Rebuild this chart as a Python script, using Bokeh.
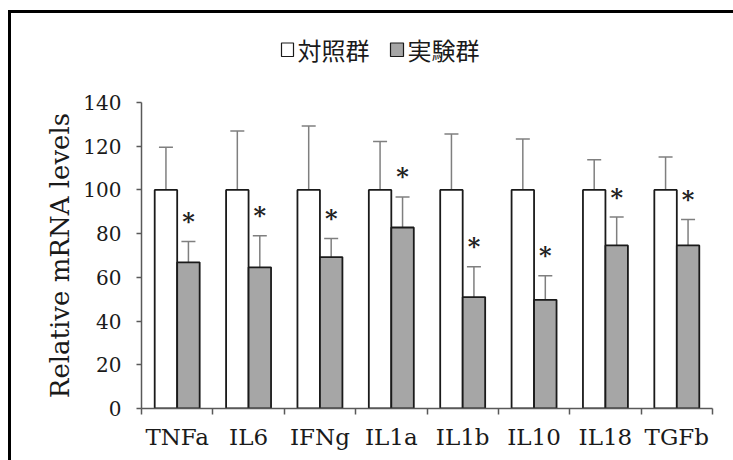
from bokeh.plotting import figure
from bokeh.layouts import column
from bokeh.models import ColumnDataSource, Range1d, FixedTicker, Whisker, TeeHead
from bokeh.core.properties import value
from bokeh.embed import file_html
from bokeh.resources import INLINE

# Gene names, group means (control normalised to 100) and error bars
genes = ["TNFa", "IL6", "IFNg", "IL1a", "IL1b", "IL10", "IL18", "TGFb"]
control = [100, 100, 100, 100, 100, 100, 100, 100]
control_err = [19.5, 27.0, 29.3, 22.2, 25.6, 23.3, 13.8, 15.1]
treated = [66.9, 64.6, 69.3, 82.8, 51.0, 49.7, 74.6, 74.6]
treated_err = [9.5, 14.4, 8.5, 14.0, 13.8, 11.0, 13.0, 11.9]
y_ticks = [0, 20, 40, 60, 80, 100, 120, 140]
group_names = ["対照群", "実験群"]

SERIF = "DejaVu Serif"
CJK = "Noto Sans CJK JP"
AXIS_COLOR = "#595959"
CTRL_FILL, TRT_FILL = "white", "#a6a6a6"
BAR_W = 0.315
N = len(genes)
W = 722
LEFT, RIGHT = 130, 21                 # shared left/right margins of both panels
PX_PER_X = (W - LEFT - RIGHT) / N


def lx(x_pix):
    """canvas pixel -> legend-panel x (shares the chart's x scale)"""
    return (x_pix - LEFT) / PX_PER_X


# ---- legend strip across the top -------------------------------------
LEG_H = 70
leg = figure(width=W, height=LEG_H, output_backend="svg", toolbar_location=None,
             x_range=Range1d(0, N), y_range=Range1d(LEG_H, 0),
             x_axis_location=None, y_axis_location=None,
             min_border_left=LEFT, min_border_right=RIGHT,
             min_border_top=0, min_border_bottom=0)
leg.outline_line_color = None
leg.grid.visible = False

swatch_src = ColumnDataSource(dict(
    left=[lx(270), lx(379)], right=[lx(282), lx(392)],
    top=[29.5, 29.5], bottom=[43, 43], fill=[CTRL_FILL, TRT_FILL],
))
leg.quad(left="left", right="right", top="top", bottom="bottom", source=swatch_src,
         fill_color="fill", line_color="#1a1a1a", line_width=1.2)
leg.text(x=[lx(286), lx(396)], y=[35.5, 35.5], text=group_names, text_font=value(CJK),
         text_font_size="24px", text_baseline="middle", text_color="#1a1a1a")

# ---- bar chart ---------------------------------------------------------
H = 377
TOP, BOTTOM = 19, 52
centers = [i + 0.5 for i in range(N)]
ctrl_x = [c - BAR_W / 2 for c in centers]
trt_x = [c + BAR_W / 2 for c in centers]

ctrl_src = ColumnDataSource(dict(
    x=ctrl_x, top=control,
    upper=[m + e for m, e in zip(control, control_err)],
    lower=[m - e for m, e in zip(control, control_err)],
))
trt_src = ColumnDataSource(dict(
    x=trt_x, top=treated,
    upper=[m + e for m, e in zip(treated, treated_err)],
    lower=[m - e for m, e in zip(treated, treated_err)],
    star=["*"] * N,
))

p = figure(width=W, height=H, output_backend="svg", toolbar_location=None,
           x_range=Range1d(0, N), y_range=Range1d(0, 140),
           min_border_left=LEFT, min_border_right=RIGHT, min_border_top=TOP,
           min_border_bottom=BOTTOM)
p.outline_line_color = None
p.grid.visible = False
p.background_fill_color = "white"
p.border_fill_color = "white"

p.vbar(x="x", top="top", width=BAR_W, bottom=0, source=ctrl_src,
       fill_color=CTRL_FILL, line_color="#1a1a1a", line_width=1.8)
p.vbar(x="x", top="top", width=BAR_W, bottom=0, source=trt_src,
       fill_color=TRT_FILL, line_color="#1a1a1a", line_width=1.8)

for src in (ctrl_src, trt_src):
    p.add_layout(Whisker(
        base="x", upper="upper", lower="lower", source=src,
        line_color="#7f7f7f", line_width=1.5,
        upper_head=TeeHead(size=14, line_color="#7f7f7f", line_width=1.5),
        lower_head=TeeHead(size=14, line_color="#7f7f7f", line_width=1.5)))

# significance marks above the treated bars' error caps
p.text(x="x", y="upper", text="star", source=trt_src, text_align="center",
       text_baseline="middle", y_offset=-20, text_font=value(SERIF),
       text_font_size="24px", text_font_style="bold", text_color="#222222")

p.yaxis.ticker = FixedTicker(ticks=y_ticks)
p.yaxis.axis_label = "Relative mRNA levels"
p.yaxis.axis_label_text_font = SERIF
p.yaxis.axis_label_text_font_style = "normal"
p.yaxis.axis_label_text_font_size = "26px"
p.yaxis.axis_label_text_color = "#1a1a1a"
p.yaxis.axis_label_standoff = 5
p.yaxis.major_label_text_font = SERIF
p.yaxis.major_label_text_font_size = "20px"
p.yaxis.major_label_text_color = "#1a1a1a"
p.yaxis.major_label_standoff = 15
p.yaxis.major_tick_in = 0
p.yaxis.major_tick_out = 5

p.xaxis.ticker = FixedTicker(ticks=centers, minor_ticks=list(range(N + 1)))
p.xaxis.major_label_overrides = {c: g for c, g in zip(centers, genes)}
p.xaxis.major_label_text_font = SERIF
p.xaxis.major_label_text_font_size = "23px"
p.xaxis.major_label_text_color = "#1a1a1a"
p.xaxis.major_label_standoff = 9
p.xaxis.minor_tick_in = 0
p.xaxis.minor_tick_out = 6

for ax in (p.xaxis, p.yaxis):
    ax.axis_line_color = AXIS_COLOR
    ax.axis_line_width = 1.5
    ax.major_tick_line_width = 1.5
    ax.minor_tick_line_width = 1.5
p.yaxis.major_tick_line_color = AXIS_COLOR
p.yaxis.minor_tick_line_color = None
p.xaxis.major_tick_line_color = None
p.xaxis.minor_tick_line_color = AXIS_COLOR

# page frame: left and top rules around the whole chart
layout = column(leg, p, spacing=0,
                styles={"margin-left": "8px", "margin-top": "10px",
                        "border-left": "3px solid black",
                        "border-top": "3px solid black"})

open("out.html", "w").write(file_html(layout, INLINE))
